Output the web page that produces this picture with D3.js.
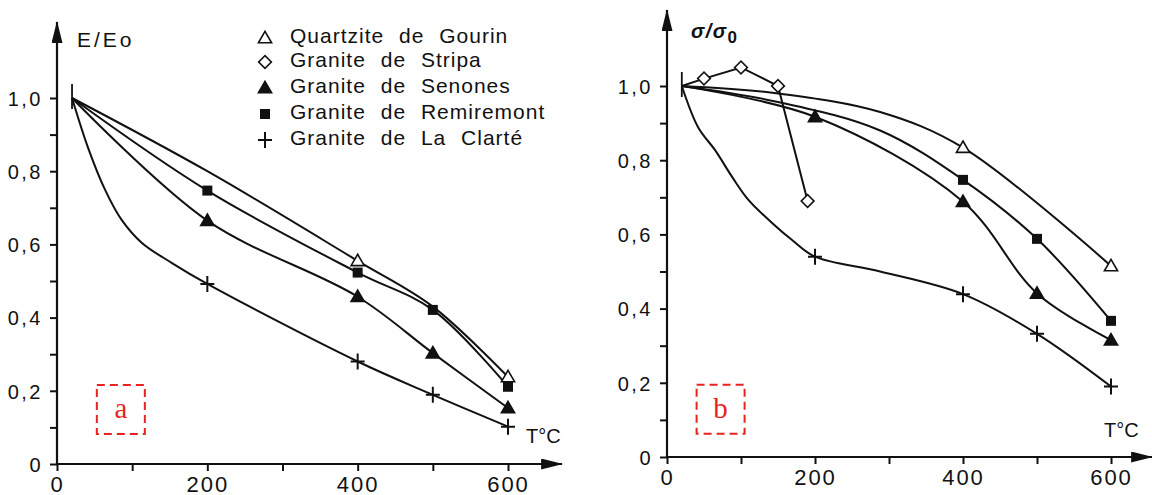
<!DOCTYPE html>
<html>
<head>
<meta charset="utf-8">
<script src="https://cdn.jsdelivr.net/npm/d3@7"></script>
<style>
  body { margin: 0; background: #fff; }
  svg text { fill: #111; }
</style>
</head>
<body>
<div class="canvas"></div>
<script>
// legend
const legendLabels = [
  "Quartzite de Gourin",
  "Granite de Stripa",
  "Granite de Senones",
  "Granite de Remiremont",
  "Granite de La Clarté"
];
const legendSymbols = ["triOpen", "diamond", "triFilled", "square", "plus"];

// tick labels
const yTickValues = [0, 0.2, 0.4, 0.6, 0.8, 1.0];
const yTickLabels = ["0", "0,2", "0,4", "0,6", "0,8", "1,0"];
const xTickValues = [0, 200, 400, 600];
const xTickLabels = ["0", "200", "400", "600"];

// panel a : E/Eo  (curve traces [T, value], markers [T, value])
const aQuartziteCurve = [[20, 1.0], [200, 0.8], [400, 0.555], [500, 0.43], [600, 0.238]];
const aQuartziteMarks = [[400, 0.555], [600, 0.238]];
const aRemiremontCurve = [[20, 1.0], [200, 0.747], [400, 0.523], [500, 0.421], [600, 0.211]];
const aRemiremontMarks = [[200, 0.747], [400, 0.523], [500, 0.421], [600, 0.211]];
const aSenonesCurve = [[20, 1.0], [200, 0.665], [400, 0.457], [500, 0.303], [600, 0.153]];
const aSenonesMarks = [[200, 0.665], [400, 0.457], [500, 0.303], [600, 0.153]];
const aClarteCurve = [[20, 1.0], [41, 0.866], [64, 0.749], [86, 0.667], [113, 0.604], [153, 0.549], [200, 0.492], [400, 0.28], [500, 0.189], [600, 0.102]];
const aClarteMarks = [[200, 0.492], [400, 0.28], [500, 0.189], [600, 0.102]];

// panel b : sigma/sigma0
const bQuartziteCurve = [[20, 1.0], [150, 0.98], [288, 0.93], [400, 0.834], [600, 0.515]];
const bQuartziteMarks = [[400, 0.834], [600, 0.515]];
const bStripaCurve = [[20, 1.0], [50, 1.02], [100, 1.05], [150, 1.0], [190, 0.69]];
const bStripaMarks = [[50, 1.02], [100, 1.05], [150, 1.0], [190, 0.69]];
const bSenonesCurve = [[20, 1.0], [200, 0.917], [400, 0.688], [500, 0.441], [600, 0.315]];
const bSenonesMarks = [[200, 0.917], [400, 0.688], [500, 0.441], [600, 0.315]];
const bRemiremontCurve = [[20, 1.0], [150, 0.957], [288, 0.88], [400, 0.747], [500, 0.588], [600, 0.367]];
const bRemiremontMarks = [[400, 0.747], [500, 0.588], [600, 0.367]];
const bClarteCurve = [[20, 1.0], [42, 0.889], [65, 0.827], [88, 0.755], [110, 0.693], [142, 0.631], [169, 0.585], [200, 0.54], [288, 0.5], [400, 0.439], [500, 0.332], [600, 0.19]];
const bClarteMarks = [[200, 0.54], [400, 0.439], [500, 0.332], [600, 0.19]];

const sans = "'Liberation Sans', Arial, sans-serif";

const svg = d3
  .select(".canvas")
  .append("svg")
  .attr("width", 1152)
  .attr("height", 495);

// arrow heads
const defs = svg.append("defs");
defs
  .append("marker")
  .attr("id", "arrow")
  .attr("viewBox", "0 0 20 10")
  .attr("refX", 19)
  .attr("refY", 5)
  .attr("markerUnits", "userSpaceOnUse")
  .attr("markerWidth", 22)
  .attr("markerHeight", 11)
  .attr("orient", "auto")
  .append("path")
  .attr("d", "M0,0L20,5L0,10Z")
  .attr("fill", "#111");

// symbol drawing
const drawSymbol = (g, type, cx, cy) => {
  const s = g.append("g").attr("transform", `translate(${cx},${cy})`);
  if (type === "triOpen" || type === "triFilled") {
    s.append("path")
      .attr("d", d3.symbol().type(d3.symbolTriangle).size(75)())
      .attr("transform", "translate(0,1)")
      .attr("fill", type === "triOpen" ? "#fff" : "#111")
      .attr("stroke", "#111")
      .attr("stroke-width", 1.6);
  } else if (type === "square") {
    s.append("rect")
      .attr("x", -5).attr("y", -5)
      .attr("width", 10).attr("height", 10)
      .attr("fill", "#111");
  } else if (type === "diamond") {
    s.append("rect")
      .attr("x", -4.5).attr("y", -4.5)
      .attr("width", 9).attr("height", 9)
      .attr("transform", "rotate(45)")
      .attr("fill", "#fff")
      .attr("stroke", "#111")
      .attr("stroke-width", 1.6);
  } else {
    s.append("path")
      .attr("d", "M-7,0H7M0,-8V8")
      .attr("stroke", "#111")
      .attr("stroke-width", 2);
  }
};

const drawPanel = (cfg) => {
  const x = d3.scaleLinear().domain([0, 600]).range(cfg.xRange);
  const y = d3.scaleLinear().domain([0, 1]).range(cfg.yRange);
  const g = svg.append("g");

  // axes with ticks
  const yAxis = d3
    .axisLeft(y)
    .tickValues(d3.range(0, 1.05, 0.1))
    .tickSize(7)
    .tickFormat((d) => {
      const i = yTickValues.findIndex((v) => Math.abs(v - d) < 1e-6);
      return i >= 0 ? yTickLabels[i] : "";
    });
  const yAxisGroup = g
    .append("g")
    .attr("transform", `translate(${x(0)},0)`)
    .call(yAxis);

  const xAxis = d3
    .axisBottom(x)
    .tickValues(d3.range(0, 601, 100))
    .tickSize(7)
    .tickFormat((d) => {
      const i = xTickValues.indexOf(d);
      return i >= 0 ? xTickLabels[i] : "";
    });
  const xAxisGroup = g
    .append("g")
    .attr("transform", `translate(0,${y(0)})`)
    .call(xAxis);

  [yAxisGroup, xAxisGroup].forEach((ax) => {
    ax.select(".domain").remove();
    ax.selectAll("line").attr("stroke", "#111").attr("stroke-width", 2);
    ax.attr("font-family", sans);
    ax.selectAll("text").attr("fill", "#111");
  });
  yAxisGroup
    .selectAll("text")
    .attr("font-size", 20)
    .attr("letter-spacing", 2.5)
    .attr("dx", -4)
    .attr("dy", "0.36em");
  xAxisGroup
    .selectAll("text")
    .attr("font-size", 22)
    .attr("letter-spacing", 2)
    .attr("dy", "0.84em");

  // axis lines with arrows
  g.append("line")
    .attr("x1", x(0)).attr("x2", x(0))
    .attr("y1", y(0)).attr("y2", cfg.yArrowTop)
    .attr("stroke", "#111").attr("stroke-width", 2.2)
    .attr("marker-end", "url(#arrow)");
  g.append("line")
    .attr("x1", x(0)).attr("x2", cfg.xArrowEnd)
    .attr("y1", y(0)).attr("y2", y(0))
    .attr("stroke", "#111").attr("stroke-width", 2.2)
    .attr("marker-end", "url(#arrow)");

  // axis titles
  g.append("text")
    .attr("x", cfg.tLabel[0]).attr("y", cfg.tLabel[1])
    .attr("font-family", sans)
    .attr("font-size", 20)
    .text("T°C");
  cfg.yTitle(g);

  // start bar at T=20
  g.append("line")
    .attr("x1", x(20)).attr("x2", x(20))
    .attr("y1", y(1) - cfg.barUp).attr("y2", y(1) + 11)
    .attr("stroke", "#111").attr("stroke-width", 1.8);

  // curves
  const curveLine = d3
    .line()
    .x((d) => x(d[0]))
    .y((d) => y(d[1]))
    .curve(d3.curveCatmullRom.alpha(0.5));
  const straightLine = d3
    .line()
    .x((d) => x(d[0]))
    .y((d) => y(d[1]));

  cfg.series.forEach((s) => {
    g.append("path")
      .datum(s.curve)
      .attr("d", s.straight ? straightLine : curveLine)
      .attr("fill", "none")
      .attr("stroke", "#111")
      .attr("stroke-width", 2);
  });
  cfg.series.forEach((s) => {
    s.marks.forEach((d) => drawSymbol(g, s.symbol, x(d[0]), y(d[1])));
  });

  // panel letter in red dashed box
  const bx = x(cfg.box[0]);
  const by = y(cfg.box[1]);
  g.append("rect")
    .attr("x", bx).attr("y", by)
    .attr("width", 48).attr("height", 49)
    .attr("fill", "none")
    .attr("stroke", "#e8231f")
    .attr("stroke-width", 2)
    .attr("stroke-dasharray", "8,5");
  g.append("text")
    .attr("x", bx + 24).attr("y", by + 33)
    .attr("text-anchor", "middle")
    .attr("font-family", "'Liberation Serif', 'DejaVu Serif', serif")
    .attr("font-size", 29)
    .style("fill", "#e8231f")
    .text(cfg.letter);
};

drawPanel({
  xRange: [57, 508],
  yRange: [464, 98],
  yArrowTop: 22,
  xArrowEnd: 562,
  tLabel: [526, 443],
  barUp: 14,
  box: [53, 0.216],
  letter: "a",
  yTitle: (g) =>
    g.append("text")
      .attr("x", 77).attr("y", 47)
      .attr("font-family", sans)
      .attr("font-size", 21)
      .attr("letter-spacing", 3)
      .text("E/Eo"),
  series: [
    { curve: aQuartziteCurve, marks: aQuartziteMarks, symbol: "triOpen" },
    { curve: aRemiremontCurve, marks: aRemiremontMarks, symbol: "square" },
    { curve: aSenonesCurve, marks: aSenonesMarks, symbol: "triFilled" },
    { curve: aClarteCurve, marks: aClarteMarks, symbol: "plus" }
  ]
});

drawPanel({
  xRange: [667, 1111],
  yRange: [457, 86],
  yArrowTop: 10,
  xArrowEnd: 1152,
  tLabel: [1104, 437],
  barUp: 14,
  box: [40, 0.195],
  letter: "b",
  yTitle: (g) => {
    const t = g.append("text")
      .attr("x", 691).attr("y", 38)
      .attr("font-family", sans)
      .attr("font-size", 20)
      .attr("font-weight", "bold")
      .attr("font-style", "italic")
      .attr("letter-spacing", 1.5);
    t.append("tspan").text("σ/σ");
    t.append("tspan").attr("dy", 5).attr("font-size", 17).attr("font-style", "normal").text("0");
  },
  series: [
    { curve: bQuartziteCurve, marks: bQuartziteMarks, symbol: "triOpen" },
    { curve: bStripaCurve, marks: bStripaMarks, symbol: "diamond", straight: true },
    { curve: bRemiremontCurve, marks: bRemiremontMarks, symbol: "square" },
    { curve: bSenonesCurve, marks: bSenonesMarks, symbol: "triFilled" },
    { curve: bClarteCurve, marks: bClarteMarks, symbol: "plus" }
  ]
});

// legend
const legend = svg.append("g").attr("font-family", sans);
const legendRows = [38, 62, 88, 114, 140];
legendLabels.forEach((label, i) => {
  drawSymbol(legend, legendSymbols[i], 265, legendRows[i]);
  legend
    .append("text")
    .attr("x", 290)
    .attr("y", legendRows[i] - 3)
    .attr("dy", "0.36em")
    .attr("font-size", 21)
    .attr("letter-spacing", 1)
    .attr("word-spacing", 8)
    .text(label);
});
</script>
</body>
</html>
